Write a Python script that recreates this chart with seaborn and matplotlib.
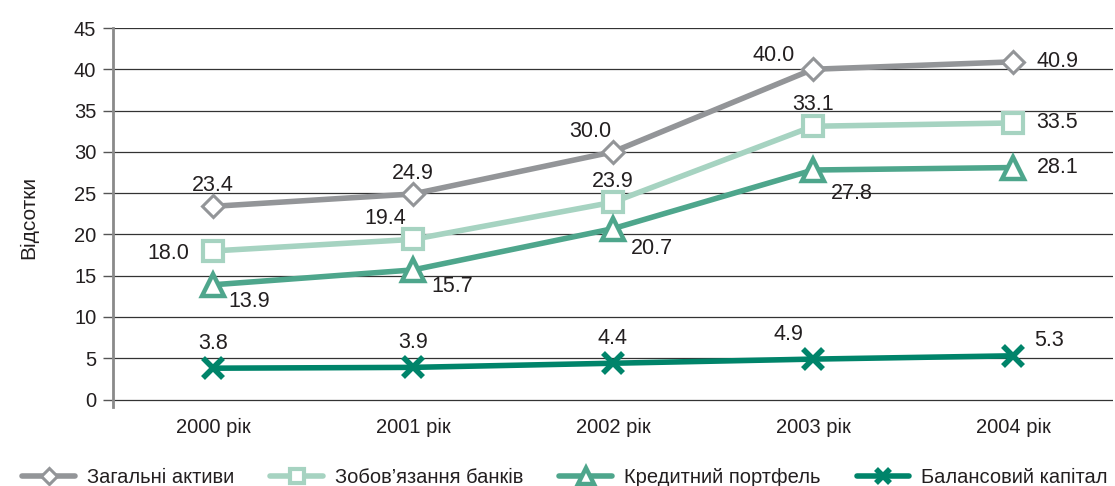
import matplotlib
matplotlib.use("Agg")
import matplotlib.pyplot as plt
import seaborn as sns
import pandas as pd
import numpy as np

years = ["2000 рік", "2001 рік", "2002 рік", "2003 рік", "2004 рік"]
series_names = ["Загальні активи", "Зобов’язання банків", "Кредитний портфель", "Балансовий капітал"]
assets = [23.4, 24.9, 30.0, 40.0, 40.9]
liabilities = [18.0, 19.4, 23.9, 33.1, 33.5]
credit = [13.9, 15.7, 20.7, 27.8, 28.1]
capital = [3.8, 3.9, 4.4, 4.9, 5.3]
yticks = [0, 5, 10, 15, 20, 25, 30, 35, 40, 45]

colors = ["#939598", "#a6d3c1", "#4ea68c", "#00846a"]
markers = ["D", "s", "^", "x"]
msizes = [11, 14, 16, 14]
mews = [2.2, 3.0, 3.2, 4.0]

sns.set_theme(style="white")
plt.rcParams['font.family'] = ['Liberation Sans', 'DejaVu Sans']

values = [assets, liabilities, credit, capital]
df = pd.DataFrame({
    "year": np.tile(years, 4),
    "series": np.repeat(series_names, 5),
    "value": np.concatenate(values),
})
df["x"] = np.tile(np.arange(len(years)), 4)

fig = plt.figure(figsize=(11.15, 4.86), dpi=100)
ax = fig.add_axes([113/1115, (486-407)/486, 1000/1115, (407-28)/486])

for i, name in enumerate(series_names):
    sub = df[df["series"] == name]
    sns.lineplot(data=sub, x="x", y="value", ax=ax, color=colors[i], lw=4,
                 marker=markers[i], markersize=msizes[i], markeredgewidth=mews[i],
                 markerfacecolor="white" if markers[i] != "x" else colors[i],
                 markeredgecolor=colors[i], label=name, zorder=3 + i)

# annotation offsets (points)
offs = [
    [(0, 15), (0, 15), (-16, 15), (-28, 10), (32, 0)],
    [(-32, -2), (-20, 15), (0, 15), (0, 16), (32, 0)],
    [(26, -12), (28, -12), (28, -14), (28, -17), (32, 0)],
    [(0, 18), (0, 18), (0, 18), (-18, 18), (26, 11)],
]
for i, vals in enumerate(values):
    for j, v in enumerate(vals):
        ax.annotate(f"{v:.1f}", (j, v), xytext=offs[i][j], textcoords="offset points",
                    ha="center", va="center", fontsize=15.5, color="#231f20")

ax.set_xlim(-0.5, 4.5)
ax.set_ylim(-0.9, 45)
ax.set_yticks(yticks)
ax.set_yticklabels([str(t) for t in yticks], fontsize=14.5, color="#231f20")
ax.set_xticks(range(len(years)))
ax.set_xticklabels(years, fontsize=14.5, color="#231f20")
ax.tick_params(axis="x", length=0, pad=8)
ax.tick_params(axis="y", length=7, width=1, color="#555555", pad=5, left=True)
for t in yticks:
    ax.axhline(t, color="#333333", lw=0.9, zorder=1)
for s in ["top", "right", "bottom"]:
    ax.spines[s].set_visible(False)
ax.spines["left"].set_color("#8a8a8a")
ax.spines["left"].set_linewidth(2)
ax.set_xlabel("")
ax.set_ylabel("Відсотки", fontsize=15, color="#231f20", labelpad=26)

ax.legend(loc="center", bbox_to_anchor=(0.452, -0.186), ncol=4, frameon=False,
          fontsize=14.5, handlelength=2.6, columnspacing=1.8, handletextpad=0.6,
          markerscale=0.75, labelcolor="#231f20")

fig.savefig("out.png", dpi=100)
